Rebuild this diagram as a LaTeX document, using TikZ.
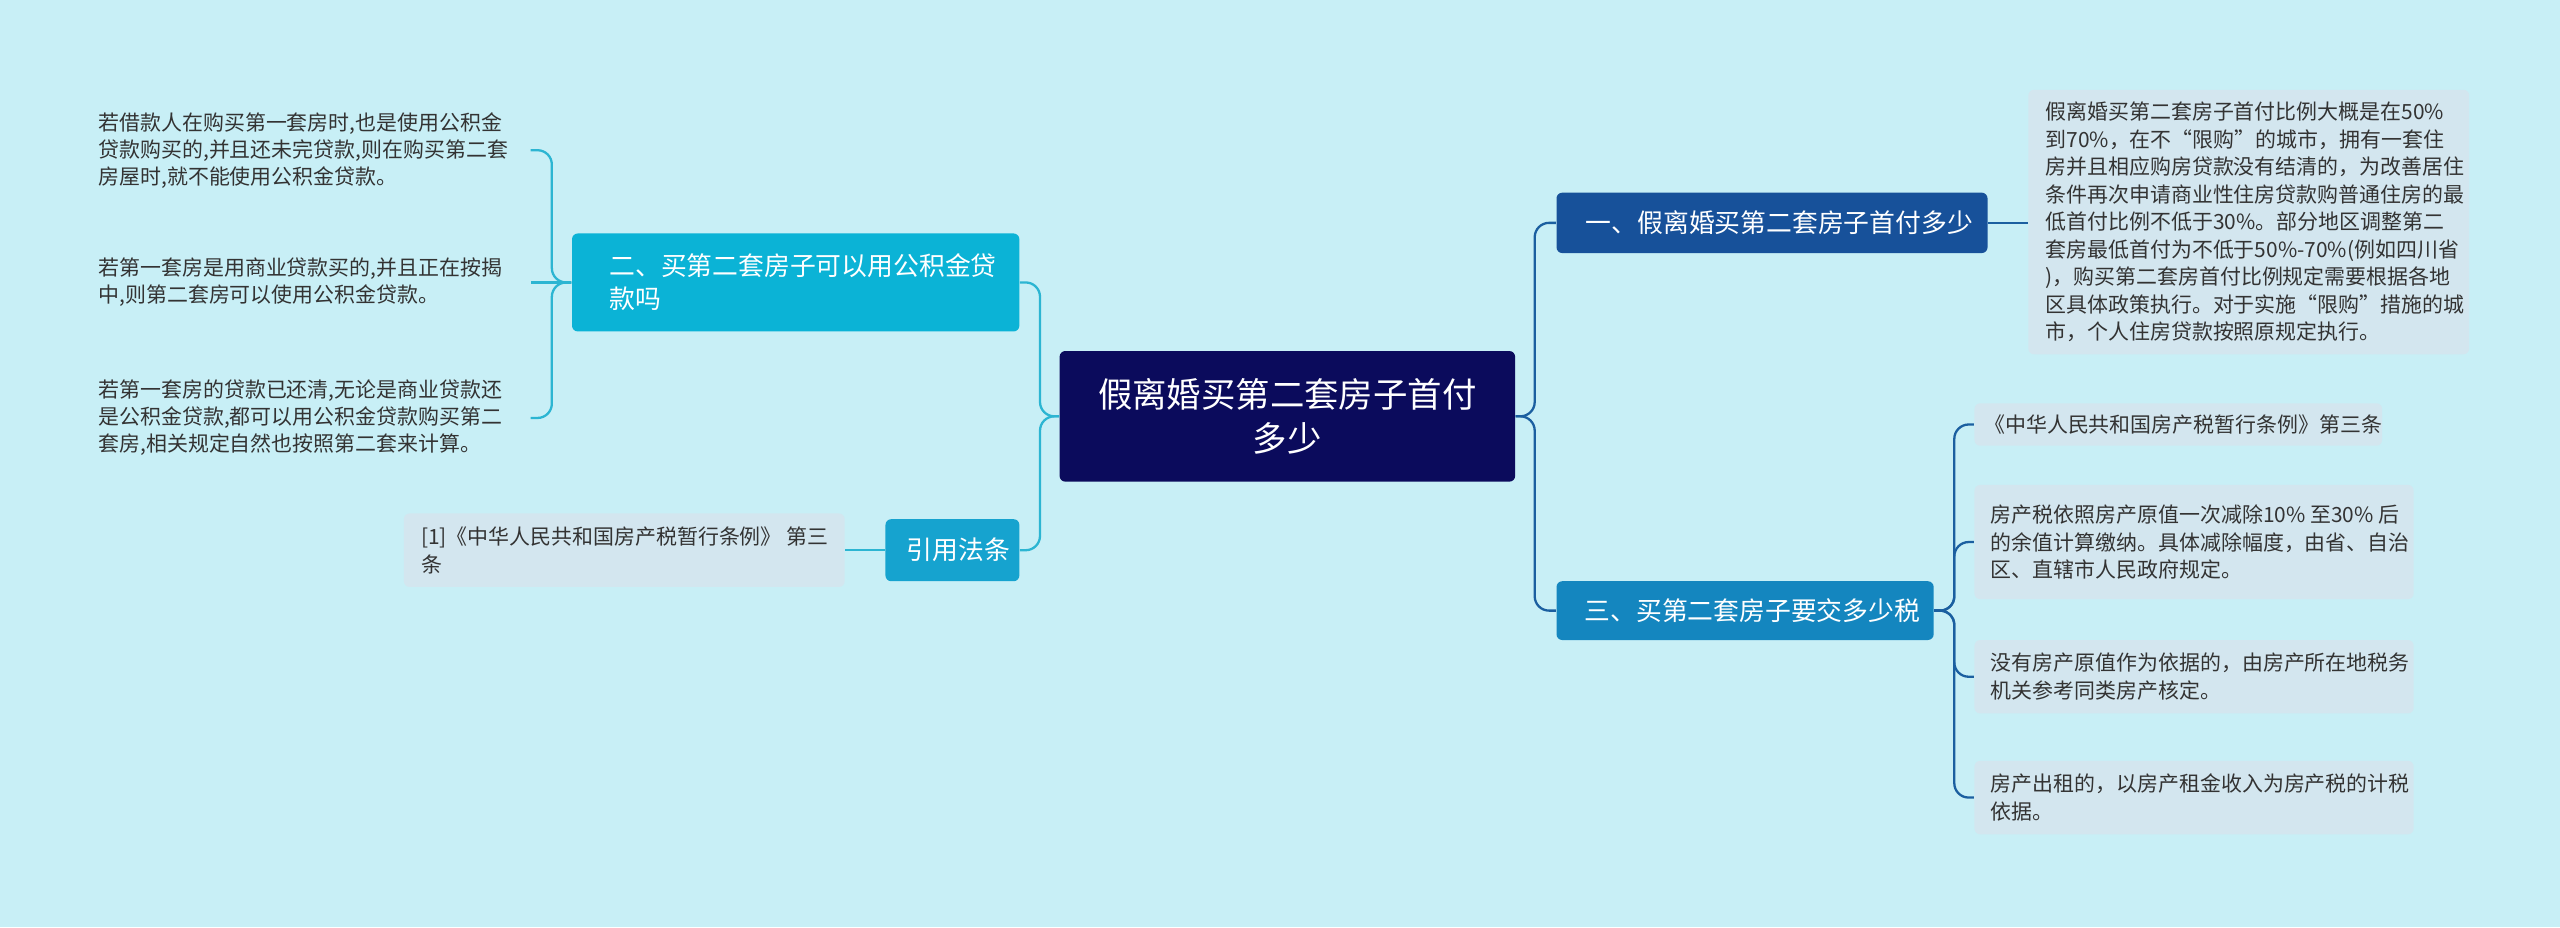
\documentclass[tikz,border=0pt]{standalone}
\usepackage{fontspec}
\setmainfont{Noto Sans CJK SC}
\usetikzlibrary{positioning}
\definecolor{bgc}{HTML}{C8EFF6}
\definecolor{centerc}{HTML}{0B0B5C}
\definecolor{darkb}{HTML}{17519A}
\definecolor{midb}{HTML}{1486BF}
\definecolor{cyanb}{HTML}{0BB3D6}
\definecolor{citeb}{HTML}{16A3CF}
\definecolor{leafc}{HTML}{D3E6EF}
\definecolor{leftln}{HTML}{2CB5D2}
\definecolor{rightln}{HTML}{1B5FA0}

\tikzset{
  boxnode/.style={rounded corners=2pt, inner sep=0pt, align=left, anchor=north west},
  leafbox/.style={boxnode, fill=leafc, text=black!80, font=\fontsize{7.3}{9.6}\selectfont},
  plainleaf/.style={boxnode, text=black!80, font=\fontsize{7.3}{9.4}\selectfont},
  branch/.style={boxnode, text=white, font=\fontsize{9}{11.5}\selectfont},
  lline/.style={leftln, line width=0.8pt, rounded corners=5pt},
  rline/.style={rightln, line width=0.8pt, rounded corners=5pt}
}

\begin{document}
\begin{tikzpicture}[x=0.02cm, y=-0.02cm]
  \fill[bgc] (0,0) rectangle (1568,568);
  \useasboundingbox (0,0) rectangle (1568,568);

  % Center
  \node[boxnode, fill=centerc, text=white, minimum width=279*0.02cm, minimum height=80*0.02cm,
        align=center, anchor=center, font=\fontsize{12}{15}\selectfont] (root) at (788.5,255)
        {假离婚买第二套房子首付\\多少};

  % Right branches
  \node[branch, fill=darkb, minimum width=264*0.02cm, minimum height=37*0.02cm, anchor=west] (b1) at (953,136.5)
        {\hspace*{0.18cm}一、假离婚买第二套房子首付多少};
  \node[branch, fill=midb, minimum width=231*0.02cm, minimum height=36*0.02cm, anchor=west] (b3) at (953,374)
        {\hspace*{0.18cm}三、买第二套房子要交多少税};

  % Left branches
  \node[branch, fill=cyanb, minimum width=274*0.02cm, minimum height=60*0.02cm, anchor=west] (b2) at (350,173)
        {\hspace*{0.18cm}二、买第二套房子可以用公积金贷\\\hspace*{0.18cm}款吗};
  \node[branch, fill=citeb, minimum width=82*0.02cm, minimum height=38*0.02cm, anchor=west, align=center] (cite) at (542,337)
        {\hspace*{0.15cm}引用法条};

  % Leaves of b1
  \node[leafbox, minimum width=270*0.02cm, minimum height=162*0.02cm, anchor=west] (l1) at (1242,136)
        {\hspace*{0.12cm}\parbox{5.1cm}{假离婚买第二套房子首付比例大概是在50\%\\到70\%，在不“限购”的城市，拥有一套住\\房并且相应购房贷款没有结清的，为改善居住\\条件再次申请商业性住房贷款购普通住房的最\\低首付比例不低于30\%。部分地区调整第二\\套房最低首付为不低于50\%-70\%(例如四川省\\)，购买第二套房首付比例规定需要根据各地\\区具体政策执行。对于实施“限购”措施的城\\市，个人住房贷款按照原规定执行。}};

  % Leaves of b3
  \node[leafbox, minimum width=228*0.02cm, minimum height=26*0.02cm, anchor=west] (l31) at (1209,260)
        {\hspace*{0.12cm}《中华人民共和国房产税暂行条例》第三条};
  \node[leafbox, minimum width=269*0.02cm, minimum height=70*0.02cm, anchor=west] (l32) at (1209,332)
        {\hspace*{0.12cm}\parbox{5.1cm}{房产税依照房产原值一次减除10\% 至30\% 后\\的余值计算缴纳。具体减除幅度，由省、自治\\区、直辖市人民政府规定。}};
  \node[leafbox, minimum width=269*0.02cm, minimum height=45*0.02cm, anchor=west] (l33) at (1209,414.5)
        {\hspace*{0.12cm}\parbox{5.1cm}{没有房产原值作为依据的，由房产所在地税务\\机关参考同类房产核定。}};
  \node[leafbox, minimum width=269*0.02cm, minimum height=45*0.02cm, anchor=west] (l34) at (1209,488.5)
        {\hspace*{0.12cm}\parbox{5.1cm}{房产出租的，以房产租金收入为房产税的计税\\依据。}};

  % Leaves of b2
  \node[plainleaf, anchor=west] (l21) at (60,92)
        {若借款人在购买第一套房时,也是使用公积金\\贷款购买的,并且还未完贷款,则在购买第二套\\房屋时,就不能使用公积金贷款。};
  \node[plainleaf, anchor=west] (l22) at (60,173)
        {若第一套房是用商业贷款买的,并且正在按揭\\中,则第二套房可以使用公积金贷款。};
  \node[plainleaf, anchor=west] (l23) at (60,256)
        {若第一套房的贷款已还清,无论是商业贷款还\\是公积金贷款,都可以用公积金贷款购买第二\\套房,相关规定自然也按照第二套来计算。};

  % Leaf of cite
  \node[leafbox, minimum width=270*0.02cm, minimum height=45*0.02cm, anchor=west] (lc) at (247,337)
        {\hspace*{0.12cm}\parbox{5.1cm}{[1]《中华人民共和国房产税暂行条例》 第三\\条}};

  % Right connectors
  \draw[rline] (root.east) -- (940,255) -- (940,136.5) -- (b1.west);
  \draw[rline] (root.east) -- (940,255) -- (940,374) -- (b3.west);
  \draw[rline] (b1.east) -- (1230,136.5) -- (1242,136.5);
  \foreach \n in {l31,l32,l33,l34}
    \draw[rline] (b3.east) -- (1197,374) |- (\n.west);

  % Left connectors
  \draw[lline] (root.west) -- (637,255) |- (b2.east);
  \draw[lline] (root.west) -- (637,255) |- (cite.east);
  \draw[lline] (cite.west) -- (lc.east);
  \draw[lline] (b2.west) -- (338,173) |- (325,92);
  \draw[lline] (b2.west) -- (338,173) -- (325,173);
  \draw[lline] (b2.west) -- (338,173) |- (325,256);
\end{tikzpicture}
\end{document}
